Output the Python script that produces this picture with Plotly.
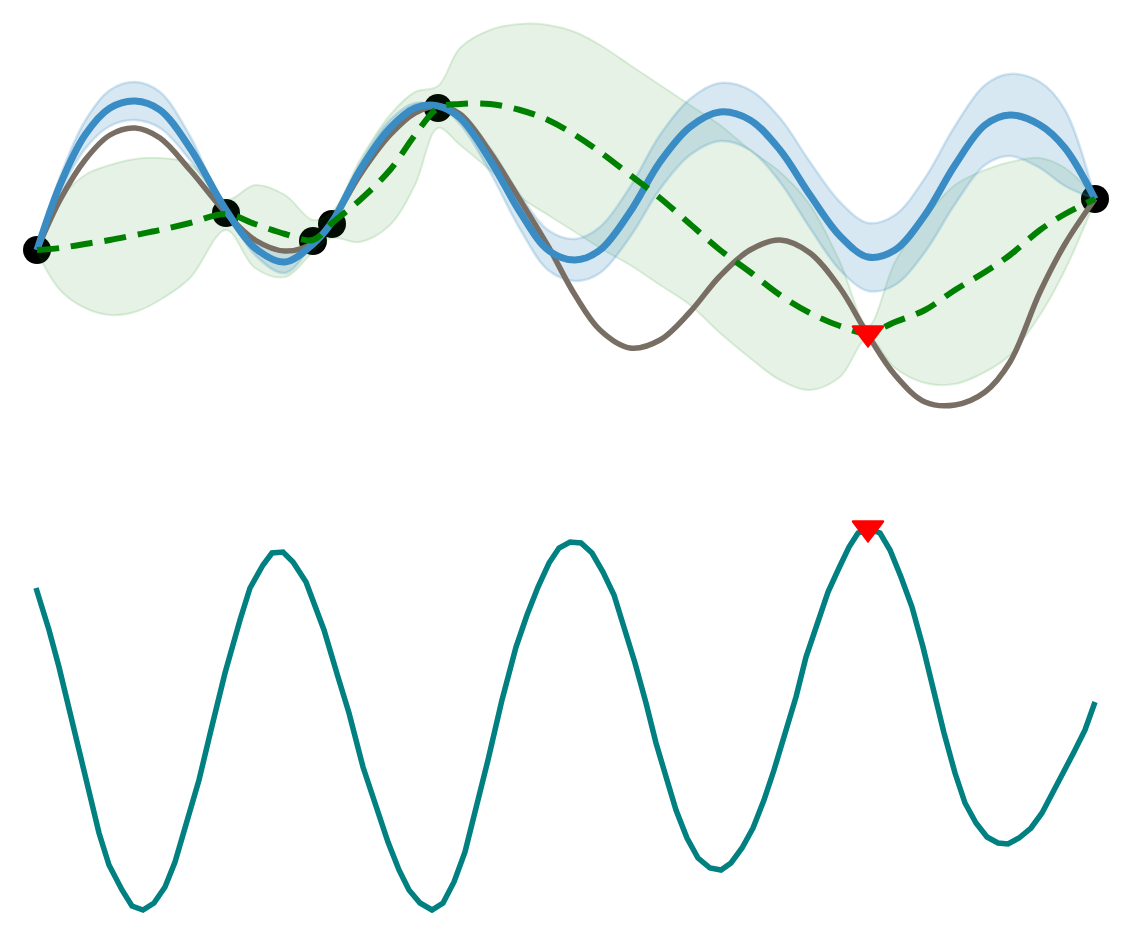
import plotly.graph_objects as go
from plotly.subplots import make_subplots

# top panel: sampling grid shared by all curves
x_top = [37, 60, 85, 110, 135, 160, 190, 226, 255, 285, 313, 332, 360, 390, 415, 438,
         460, 490, 520, 548, 575, 600, 630, 660, 690, 720, 750, 780, 810, 840, 868,
         895, 925, 955, 985, 1010, 1040, 1065, 1095]

# true function (grey)
y_true = [250, 200, 160, 135, 128, 138, 170, 213, 240, 251, 243, 222, 175, 135, 113, 106,
          114, 152, 200, 246, 295, 330, 348, 340, 312, 276, 250, 240, 253, 288, 335,
          375, 402, 405, 392, 362, 292, 244, 199]

# surrogate mean (blue) and its half width
y_mean = [250, 185, 135, 108, 101, 110, 148, 210, 248, 262, 244, 222, 170, 128, 108, 106,
          118, 160, 212, 250, 260, 250, 212, 162, 127, 112, 120, 150, 195, 236, 257,
          250, 215, 165, 125, 115, 125, 148, 199]
y_sd = [0, 8, 14, 18, 19, 18, 12, 0, 7, 11, 0, 0, 6, 8, 5, 0,
        6, 12, 17, 20, 21, 23, 25, 27, 28, 29, 30, 32, 33, 34, 34,
        35, 37, 39, 40, 41, 43, 38, 0]

# second model (green dashed) with its band
y_alt = [250, 248, 244, 240, 235, 230, 223, 214, 224, 234, 240, 223, 200, 170, 135, 108,
         104, 104, 110, 120, 135, 152, 175, 198, 224, 250, 272, 295, 313, 326, 333,
         322, 310, 290, 272, 255, 230, 214, 199]
alt_hi = [248, 200, 175, 165, 159, 158, 164, 200, 185, 195, 220, 212, 160, 115, 92, 86,
          48, 30, 24, 25, 32, 45, 65, 85, 105, 125, 150, 172, 205, 262, 326,
          262, 218, 185, 170, 162, 158, 168, 197]
alt_lo = [252, 290, 308, 315, 312, 300, 278, 230, 268, 277, 252, 238, 242, 225, 185, 128,
          145, 170, 197, 215, 232, 248, 265, 285, 305, 333, 358, 380, 390, 377, 338,
          368, 383, 384, 372, 355, 315, 270, 201]

# observations and next query
obs_x = [37, 226, 313, 332, 438, 1095]
obs_y = [250, 213, 241, 224, 108, 199]
next_x = [868]
next_y = [333]

# bottom panel: acquisition function
x_acq = [36, 49, 59, 74, 84, 99, 109, 122, 132, 143, 154, 165, 175, 186, 199, 211, 225,
         240, 250, 263, 272, 283, 293, 306, 324, 338, 349, 363, 377, 388, 399, 409,
         420, 432, 443, 454, 465, 475, 488, 502, 516, 527, 538, 549, 559, 570, 581,
         592, 603, 614, 624, 635, 646, 656, 667, 676, 687, 698, 710, 721, 731, 742,
         753, 764, 774, 785, 796, 806, 817, 828, 839, 849, 858, 869, 880, 890, 901,
         912, 923, 933, 944, 955, 965, 976, 987, 998, 1008, 1019, 1031, 1042, 1053,
         1064, 1074, 1085, 1095]
y_acq = [588, 630, 667, 730, 773, 833, 865, 890, 906, 910, 903, 887, 862, 825, 780, 730, 673,
         620, 588, 565, 553, 552, 562, 582, 630, 677, 713, 767, 810, 842, 870, 890,
         903, 910, 903, 882, 852, 813, 760, 700, 647, 615, 587, 563, 548, 542, 543,
         553, 572, 595, 627, 663, 703, 743, 780, 810, 838, 858, 868, 870, 863, 848,
         828, 800, 770, 733, 697, 657, 623, 592, 568, 547, 533, 529, 533, 550, 577,
         607, 647, 690, 733, 773, 803, 823, 837, 843, 844, 838, 828, 813, 793,
         773, 752, 730, 702]
acq_best_x = [868]
acq_best_y = [528]

blue = '#3a8cc4'
grey = '#786e64'
green = '#008000'
teal = '#008080'

fig = make_subplots(rows=2, cols=1, vertical_spacing=0)

fig.add_trace(go.Scatter(x=obs_x, y=obs_y, mode='markers',
                         marker=dict(color='black', size=28)), row=1, col=1)

# banda verde
fig.add_trace(go.Scatter(x=x_top, y=alt_hi, mode='lines', line_shape='spline',
                         line=dict(color='rgba(0,128,0,0.12)', width=2)), row=1, col=1)
fig.add_trace(go.Scatter(x=x_top, y=alt_lo, mode='lines', line_shape='spline',
                         fill='tonexty', fillcolor='rgba(0,128,0,0.1)',
                         line=dict(color='rgba(0,128,0,0.12)', width=2)), row=1, col=1)

# banda azul
blue_hi = [m - s for m, s in zip(y_mean, y_sd)]
blue_lo = [m + s for m, s in zip(y_mean, y_sd)]
fig.add_trace(go.Scatter(x=x_top, y=blue_hi, mode='lines', line_shape='spline',
                         line=dict(color='rgba(58,141,197,0.22)', width=2.5)), row=1, col=1)
fig.add_trace(go.Scatter(x=x_top, y=blue_lo, mode='lines', line_shape='spline',
                         fill='tonexty', fillcolor='rgba(58,141,197,0.2)',
                         line=dict(color='rgba(58,141,197,0.22)', width=2.5)), row=1, col=1)

fig.add_trace(go.Scatter(x=x_top, y=y_true, mode='lines', line_shape='spline',
                         line=dict(color=grey, width=5.5)), row=1, col=1)
fig.add_trace(go.Scatter(x=x_top, y=y_mean, mode='lines', line_shape='spline',
                         line=dict(color=blue, width=7)), row=1, col=1)
fig.add_trace(go.Scatter(x=x_top, y=y_alt, mode='lines', line_shape='spline',
                         line=dict(color=green, width=6, dash='22px,12px')), row=1, col=1)

fig.add_trace(go.Scatter(x=next_x, y=next_y, mode='markers',
                         marker=dict(color='red', size=27, symbol='triangle-down',
                                     line=dict(color='red', width=2))), row=1, col=1)

fig.add_trace(go.Scatter(x=x_acq, y=y_acq, mode='lines',
                         line=dict(color=teal, width=5.5)), row=2, col=1)
fig.add_trace(go.Scatter(x=acq_best_x, y=acq_best_y, mode='markers',
                         marker=dict(color='red', size=27, symbol='triangle-down',
                                     line=dict(color='red', width=2))), row=2, col=1)

# the page adds an 8px margin, so the figure is 8px smaller and the ranges start at 8
hidden = dict(visible=False, showgrid=False, zeroline=False)
fig.update_layout(
    width=1137, height=926,
    margin=dict(l=0, r=0, t=0, b=0),
    paper_bgcolor='white', plot_bgcolor='white',
    showlegend=False,
    xaxis=dict(range=[8, 1145], domain=[0, 1], **hidden),
    xaxis2=dict(range=[8, 1145], domain=[0, 1], **hidden),
    yaxis=dict(range=[471, 8], domain=[0.5, 1], **hidden),
    yaxis2=dict(range=[934, 471], domain=[0, 0.5], **hidden),
)

fig.write_html("out.html")
